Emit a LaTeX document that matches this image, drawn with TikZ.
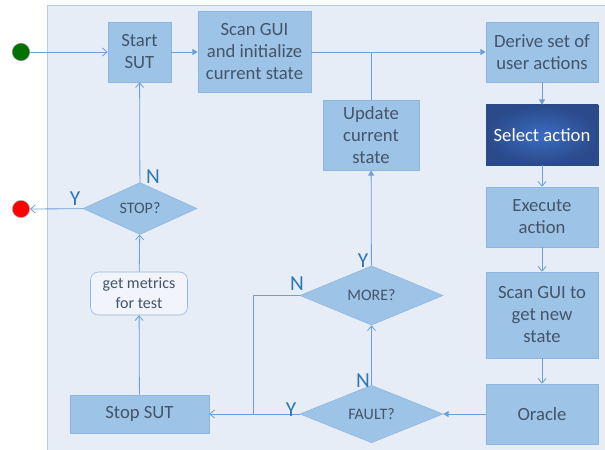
\documentclass[tikz,border=0pt]{standalone}
\usepackage{fontspec}
\setmainfont{Carlito}
\usetikzlibrary{arrows.meta,shapes.geometric}

\definecolor{panelbg}{HTML}{E7EDF6}
\definecolor{panelline}{HTML}{B7CCE6}
\definecolor{boxfill}{HTML}{9DC3E6}
\definecolor{boxline}{HTML}{8EB6E2}
\definecolor{flow}{HTML}{6A9FD8}
\definecolor{txt}{HTML}{44546A}
\definecolor{yn}{HTML}{2E75B6}
\definecolor{selin}{HTML}{3A6CC0}
\definecolor{selout}{HTML}{2A4A8A}

\tikzset{
  box/.style={draw=boxline,fill=boxfill,text=txt,align=center,inner sep=0pt,
    font=\fontsize{14}{16.5}\selectfont},
  decide/.style={diamond,draw=boxline,fill=boxfill,text=txt,inner sep=0pt,
    minimum height=32.25pt,font=\fontsize{12}{14}\selectfont},
  lbl/.style={text=yn,inner sep=0pt,font=\fontsize{16}{18}\selectfont},
  flowline/.style={draw=flow,line width=0.6pt},
  open/.style={flowline,-{Straight Barb[length=3.5pt,width=6pt]}},
  solid tip/.style={flowline,-{Triangle[length=4pt,width=4.5pt]}},
}

\begin{document}
\begin{tikzpicture}[x=0.75pt,y=-0.75pt]
  \useasboundingbox (0,0) rectangle (605,449);
  \clip (0,0) rectangle (605,449);
  % panel
  \fill[panelbg,draw=panelline] (47,5) rectangle (640,480);
  % start / end points
  \node[circle,fill=green!45!black,draw=gray,minimum size=13pt,inner sep=0pt] (go) at (21,52) {};
  \node[circle,fill=red,draw=gray!60,minimum size=13pt,inner sep=0pt] (halt) at (21,209) {};
  % left column
  \node[box,minimum width=47.25pt,minimum height=45pt] (start) at (139.5,52) {Start\\SUT};
  \node[decide,minimum width=85.5pt] (stopq) at (140,208.5) {STOP?};
  \node[box,fill=panelbg!60!white,rounded corners=6pt,minimum width=72.75pt,minimum height=32.25pt,
    font=\fontsize{12}{15}\selectfont] (metrics) at (139,293.5) {get metrics\\for test};
  \node[box,minimum width=104.25pt,minimum height=28.5pt] (stop) at (139.5,414) {Stop SUT};
  % middle column
  \node[box,minimum width=84.75pt,minimum height=60.75pt] (scan) at (254.5,52) {Scan GUI\\and initialize\\current state};
  \node[box,minimum width=72pt,minimum height=52.5pt] (update) at (371,135) {Update\\current\\state};
  \node[decide,minimum width=107.25pt] (more) at (371.5,295.5) {MORE?};
  \node[decide,minimum width=107.25pt] (fault) at (371.5,414) {FAULT?};
  % right column
  \node[box,minimum width=84pt,minimum height=45pt] (derive) at (542,52) {Derive set of\\user actions};
  \node[box,draw=selout,shading=radial,inner color=selin,outer color=selout,text=white,
    minimum width=84pt,minimum height=45pt] (select) at (542,135) {Select action};
  \node[box,minimum width=84pt,minimum height=45pt] (execute) at (542,217) {Execute\\action};
  \node[box,minimum width=84pt,minimum height=64.5pt] (newstate) at (542,315) {Scan GUI to\\get new\\state};
  \node[box,minimum width=84pt,minimum height=45pt] (oracle) at (542,414) {Oracle};
  % connectors
  \draw[open] (go) -- (start);
  \draw[solid tip] (start) -- (scan);
  \draw[solid tip] (scan) -- (derive);
  \draw[flowline] (update) -- (update |- scan.east);
  \draw[solid tip] (derive) -- (select);
  \draw[open] (select) -- (execute);
  \draw[open] (execute) -- (newstate);
  \draw[open] (newstate) -- (oracle);
  \draw[solid tip] (oracle) -- (fault);
  \draw[open] (fault) -- (more);
  \draw[solid tip] (more) -- (update);
  \draw[open] (fault) -- (stop);
  \coordinate (join) at (253,414);
  \draw[flowline] (more) -| (join);
  \draw[open] (stop) -- (metrics);
  \draw[open] (metrics) -- (stopq);
  \draw[open] (stopq) -- (start);
  \draw[open] (stopq) -- (halt);
  % Y / N labels
  \node[lbl] (stopn) at (153,177) {N};
  \node[lbl] (stopy) at (75,199) {Y};
  \node[lbl] (moren) at (297,284) {N};
  \node[lbl] (morey) at (363,261) {Y};
  \node[lbl] (faultn) at (363,381) {N};
  \node[lbl] (faulty) at (291,410) {Y};
\end{tikzpicture}
\end{document}
